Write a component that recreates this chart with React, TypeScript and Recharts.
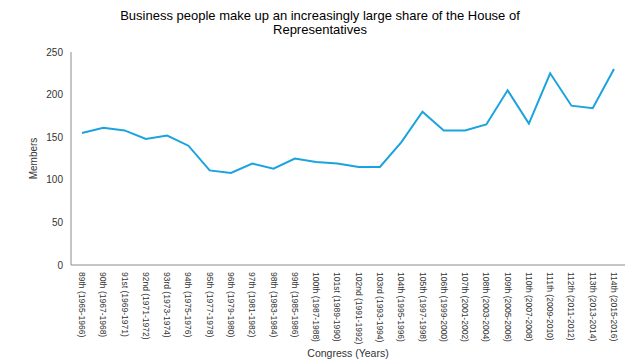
import React from "react";
import { LineChart, Line, XAxis, YAxis } from "recharts";

// Congress sessions (x axis categories)
const congresses = [
  "89th (1965-1966)",
  "90th (1967-1968)",
  "91st (1969-1971)",
  "92nd (1971-1972)",
  "93rd (1973-1974)",
  "94th (1975-1976)",
  "95th (1977-1978)",
  "96th (1979-1980)",
  "97th (1981-1982)",
  "98th (1983-1984)",
  "99th (1985-1986)",
  "100th (1987-1988)",
  "101st (1989-1990)",
  "102nd (1991-1992)",
  "103rd (1993-1994)",
  "104th (1995-1996)",
  "105th (1997-1998)",
  "106th (1999-2000)",
  "107th (2001-2002)",
  "108th (2003-2004)",
  "109th (2005-2006)",
  "110th (2007-2008)",
  "111th (2009-2010)",
  "112th (2011-2012)",
  "113th (2013-2014)",
  "114th (2015-2016)",
];

// business people in the House, per congress
const members = [
  155, 161, 158, 148, 152, 140, 111, 108, 119, 113, 125, 121, 119, 115, 115,
  144, 180, 158, 158, 165, 205, 166, 225, 187, 184, 230,
];

const yTicks = [0, 50, 100, 150, 200, 250];

const data = congresses.map((name, i) => ({ name, members: members[i] }));

const FONT = "Arial, 'Liberation Sans', sans-serif";

/* rotated category labels, reading top to bottom */
function CongressTick(props: any) {
  const { x, y, payload } = props;
  const ty = y + 1;
  return (
    <text
      x={x}
      y={ty}
      transform={`rotate(90, ${x}, ${ty})`}
      textAnchor="start"
      dy="0.35em"
      fontSize={8.5}
      fontFamily={FONT}
      fill="#333"
    >
      {payload.value}
    </text>
  );
}

function App() {
  return (
    <div
      style={{
        position: "absolute",
        left: 0,
        top: 0,
        width: 640,
        height: 360,
        background: "#fff",
        fontFamily: FONT,
      }}
    >
      <div
        style={{
          position: "absolute",
          top: 9,
          left: 0,
          width: 640,
          textAlign: "center",
          fontSize: 13,
          lineHeight: "14px",
          color: "#000",
        }}
      >
        Business people make up an increasingly large share of the House of
        <br />
        Representatives
      </div>
      <LineChart
        width={640}
        height={360}
        data={data}
        margin={{ top: 52, right: 15, bottom: 0, left: 31 }}
      >
        <XAxis
          dataKey="name"
          interval={0}
          tickLine={false}
          tickMargin={0}
          height={95}
          padding={{ left: 11, right: 11 }}
          axisLine={{ stroke: "#8c8c8c" }}
          tick={<CongressTick />}
          label={{
            value: "Congress  (Years)",
            position: "insideBottom",
            offset: 3,
            fontSize: 10.5,
            fill: "#333",
            fontFamily: FONT,
          }}
        />
        <YAxis
          domain={[0, 250]}
          ticks={yTicks}
          width={40}
          tickLine={false}
          axisLine={{ stroke: "#8c8c8c" }}
          tick={{ fontSize: 10, fill: "#333", fontFamily: FONT }}
          label={{
            value: "Members",
            angle: -90,
            position: "insideLeft",
            offset: 2,
            fontSize: 10,
            fill: "#333",
            fontFamily: FONT,
            style: { textAnchor: "middle" },
          }}
        />
        <Line
          type="linear"
          dataKey="members"
          stroke="#1ba3de"
          strokeWidth={2}
          dot={false}
          isAnimationActive={false}
        />
      </LineChart>
    </div>
  );
}

export default App;
